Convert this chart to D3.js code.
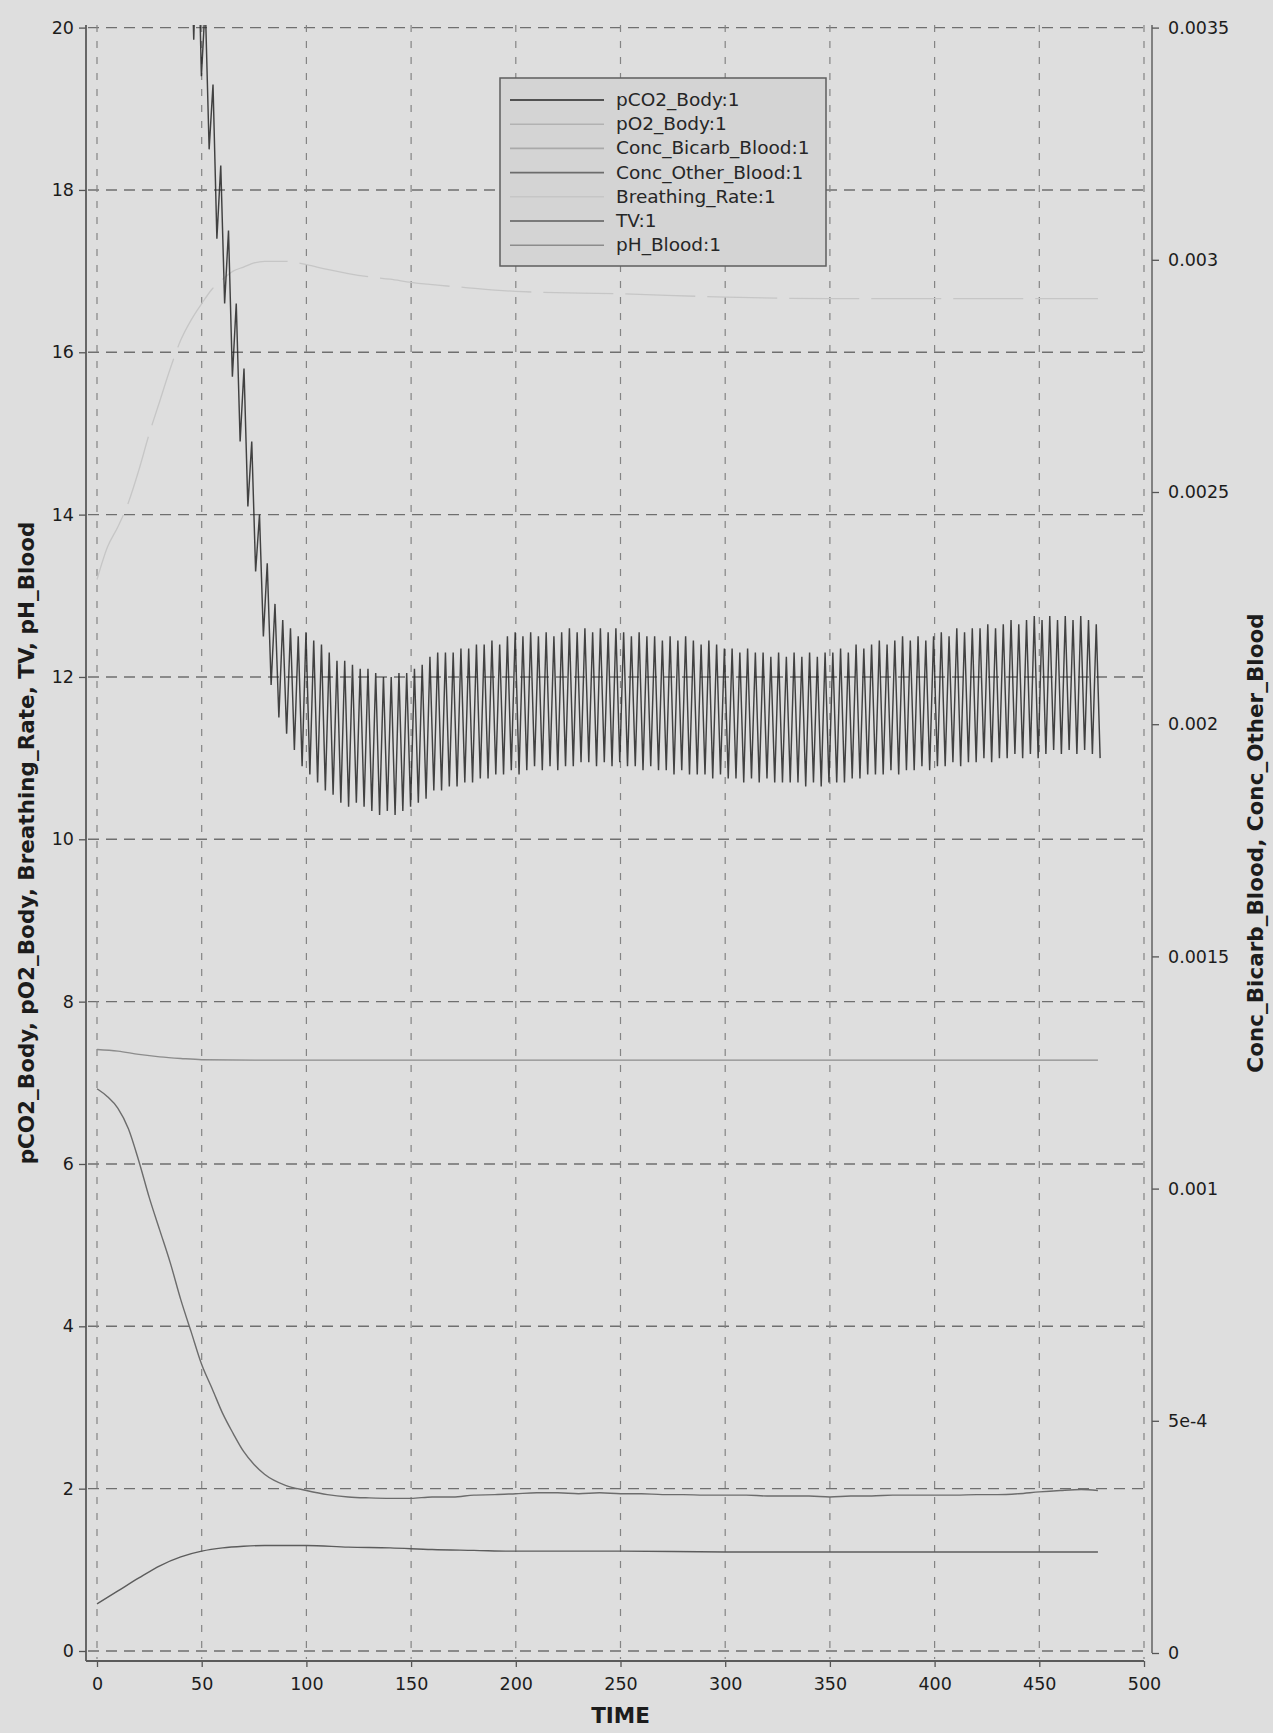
<!DOCTYPE html>
<html>
<head>
<meta charset="utf-8">
<script src="https://cdn.jsdelivr.net/npm/d3@7"></script>
<style>
  body { margin: 0; background: #dedede; }
  svg { display: block; }
  .tick text { font-family: "DejaVu Sans", sans-serif; font-size: 17.5px; fill: #1c1c1c; }
  .axis-title { font-family: "DejaVu Sans", sans-serif; font-weight: bold; font-size: 21.5px; fill: #1c1c1c; }
  .legend-text { font-family: "DejaVu Sans", sans-serif; font-size: 18.5px; fill: #262626; }
</style>
</head>
<body>
<svg id="chart" width="1273" height="1733"></svg>
<script>
/* global d3 */

// ---- data ----
const timeTicks = [0, 50, 100, 150, 200, 250, 300, 350, 400, 450, 500]
const leftTicks = [0, 2, 4, 6, 8, 10, 12, 14, 16, 18, 20]
const rightTicks = [0, 0.0005, 0.001, 0.0015, 0.002, 0.0025, 0.003, 0.0035]
const rightTickLabels = ['0', '5e-4', '0.001', '0.0015', '0.002', '0.0025', '0.003', '0.0035']

const legendNames = ['pCO2_Body:1', 'pO2_Body:1', 'Conc_Bicarb_Blood:1', 'Conc_Other_Blood:1',
  'Breathing_Rate:1', 'TV:1', 'pH_Blood:1']

// pCO2_Body oscillates once per breath: peak / trough of every breath
const breathStart = 48
const breathPeriod = 3.7
const oscLead = [[44, 22], [46.2, 19.85]]
const oscHi = [21.5, 20.3, 19.3, 18.3, 17.5, 16.6, 15.8, 14.9, 14.0, 13.4, 12.9, 12.7, 12.6, 12.5, 12.55,
  12.45, 12.4, 12.3, 12.2, 12.2, 12.15, 12.1, 12.1, 12.05, 12.0, 12.0, 12.05, 12.05, 12.1, 12.15,
  12.25, 12.3, 12.3, 12.3, 12.35, 12.35, 12.4, 12.4, 12.45, 12.4, 12.5, 12.55, 12.5, 12.55, 12.5,
  12.55, 12.5, 12.55, 12.6, 12.55, 12.6, 12.55, 12.6, 12.55, 12.6, 12.55, 12.5, 12.55, 12.5, 12.5,
  12.45, 12.5, 12.45, 12.5, 12.45, 12.4, 12.45, 12.4, 12.35, 12.35, 12.3, 12.35, 12.3, 12.3, 12.25,
  12.3, 12.25, 12.3, 12.25, 12.3, 12.25, 12.3, 12.3, 12.35, 12.3, 12.4, 12.35, 12.4, 12.45, 12.4,
  12.45, 12.5, 12.45, 12.5, 12.45, 12.5, 12.55, 12.5, 12.6, 12.55, 12.6, 12.6, 12.65, 12.6, 12.65,
  12.7, 12.65, 12.7, 12.75, 12.7, 12.75, 12.7, 12.75, 12.7, 12.75, 12.7, 12.65]
const oscLo = [19.4, 18.5, 17.4, 16.6, 15.7, 14.9, 14.1, 13.3, 12.5, 11.9, 11.5, 11.3, 11.1, 10.9, 10.8,
  10.7, 10.6, 10.55, 10.45, 10.4, 10.45, 10.4, 10.35, 10.3, 10.35, 10.3, 10.35, 10.4, 10.45, 10.5,
  10.6, 10.6, 10.65, 10.65, 10.7, 10.7, 10.75, 10.75, 10.8, 10.8, 10.85, 10.8, 10.85, 10.9, 10.85,
  10.9, 10.85, 10.9, 10.9, 10.95, 10.95, 10.9, 10.95, 10.9, 10.95, 10.9, 10.9, 10.85, 10.9, 10.85,
  10.85, 10.8, 10.85, 10.8, 10.8, 10.8, 10.75, 10.8, 10.75, 10.75, 10.7, 10.75, 10.7, 10.75, 10.7,
  10.7, 10.7, 10.7, 10.65, 10.7, 10.65, 10.7, 10.7, 10.7, 10.75, 10.75, 10.8, 10.8, 10.8, 10.85,
  10.8, 10.85, 10.85, 10.9, 10.85, 10.9, 10.9, 10.95, 10.9, 10.95, 10.95, 11.0, 10.95, 11.0, 11.0,
  11.05, 11.0, 11.05, 11.0, 11.05, 11.1, 11.05, 11.1, 11.05, 11.1, 11.05, 11.0]

const breathingRate = [[0, 13.2], [5, 13.6], [10, 13.85], [15, 14.15], [20, 14.55], [25, 15.0], [30, 15.4],
  [35, 15.8], [40, 16.15], [45, 16.4], [50, 16.6], [55, 16.78], [60, 16.9], [65, 17.0], [70, 17.05],
  [75, 17.1], [80, 17.12], [90, 17.12], [100, 17.08], [110, 17.02], [120, 16.97], [130, 16.93],
  [140, 16.9], [150, 16.86], [175, 16.8], [200, 16.75], [250, 16.72], [300, 16.68], [350, 16.66],
  [400, 16.66], [450, 16.66], [478, 16.66]]

const tidalVolume = [[0, 0.58], [10, 0.74], [20, 0.9], [30, 1.05], [40, 1.16], [50, 1.23], [60, 1.27],
  [70, 1.29], [80, 1.3], [100, 1.3], [120, 1.28], [140, 1.27], [160, 1.25], [180, 1.24], [200, 1.23],
  [250, 1.23], [300, 1.22], [350, 1.22], [400, 1.22], [450, 1.22], [478, 1.22]]

const phBlood = [[0, 7.41], [10, 7.39], [20, 7.35], [30, 7.32], [40, 7.3], [50, 7.285], [75, 7.28],
  [150, 7.28], [300, 7.28], [478, 7.28]]

// right axis
const concOther = [[0, 0.001215], [5, 0.001198], [10, 0.001173], [15, 0.001129], [20, 0.001059],
  [25, 0.00098], [30, 0.00091], [35, 0.00084], [40, 0.000761], [45, 0.000691], [50, 0.000621],
  [55, 0.000569], [60, 0.000516], [65, 0.000473], [70, 0.000434], [75, 0.000406], [80, 0.000385],
  [90, 0.000361], [100, 0.00035], [110, 0.000341], [120, 0.000336], [130, 0.000334], [140, 0.000333],
  [150, 0.000333], [160, 0.000336], [170, 0.000336], [180, 0.00034], [190, 0.000341], [200, 0.000343],
  [210, 0.000345], [220, 0.000345], [230, 0.000343], [240, 0.000345], [250, 0.000343], [260, 0.000343],
  [270, 0.000341], [280, 0.000341], [290, 0.00034], [300, 0.00034], [310, 0.00034], [320, 0.000338],
  [330, 0.000338], [340, 0.000338], [350, 0.000336], [360, 0.000338], [370, 0.000338], [380, 0.00034],
  [390, 0.00034], [400, 0.00034], [410, 0.00034], [420, 0.000341], [430, 0.000341], [440, 0.000343],
  [450, 0.000347], [460, 0.00035], [470, 0.000352], [478, 0.00035]]

const seriesColor = {
  'pCO2_Body:1': '#262626',
  'pO2_Body:1': '#b2b2b2',
  'Conc_Bicarb_Blood:1': '#a9a9a9',
  'Conc_Other_Blood:1': '#6c6c6c',
  'Breathing_Rate:1': '#c6c6c6',
  'TV:1': '#5c5c5c',
  'pH_Blood:1': '#8c8c8c'
}

// ---- layout ----
const frame = { left: 86, right: 1152, top: 25, bottom: 1661 }

const x = d3.scaleLinear().domain([0, 500]).range([97, 1144])
const yLeft = d3.scaleLinear().domain([0, 20]).range([1651, 27.6])
const yRight = d3.scaleLinear().domain([0, 0.0035]).range([1653, 27.6])

const $svg = d3.select('#chart')

$svg.append('rect')
  .attr('width', 1273).attr('height', 1733)
  .attr('fill', '#dedede')

$svg.append('defs').append('clipPath')
  .attr('id', 'plot-clip')
  .append('rect')
  .attr('x', frame.left).attr('y', frame.top)
  .attr('width', frame.right - frame.left).attr('height', frame.bottom - frame.top)

// grid
const $grid = $svg.append('g').attr('class', 'grid')
$grid.selectAll('.hgrid')
  .data(leftTicks)
  .enter()
  .append('line')
  .attr('class', 'hgrid')
  .attr('x1', frame.left + 2).attr('x2', frame.right - 2)
  .attr('y1', d => yLeft(d)).attr('y2', d => yLeft(d))
  .attr('stroke', '#6f6f6f')
  .attr('stroke-width', 1.4)
  .attr('stroke-dasharray', '11,7')

$grid.selectAll('.vgrid')
  .data(timeTicks)
  .enter()
  .append('line')
  .attr('class', 'vgrid')
  .attr('x1', d => x(d)).attr('x2', d => x(d))
  .attr('y1', frame.top).attr('y2', frame.bottom - 2)
  .attr('stroke', '#848484')
  .attr('stroke-width', 1.2)
  .attr('stroke-dasharray', '7,9')

// series
const $plot = $svg.append('g').attr('clip-path', 'url(#plot-clip)')

const lineLeft = d3.line().x(d => x(d[0])).y(d => yLeft(d[1]))
const smoothLeft = d3.line().curve(d3.curveMonotoneX).x(d => x(d[0])).y(d => yLeft(d[1]))
const smoothRight = d3.line().curve(d3.curveMonotoneX).x(d => x(d[0])).y(d => yRight(d[1]))

const pco2 = oscLead.slice()
oscHi.forEach((h, i) => {
  const t = breathStart + i * breathPeriod
  pco2.push([t, h])
  if (oscLo[i] != null) pco2.push([t + breathPeriod / 2, oscLo[i]])
})

$plot.append('path')
  .datum(breathingRate)
  .attr('d', smoothLeft)
  .attr('fill', 'none')
  .attr('stroke', seriesColor['Breathing_Rate:1'])
  .attr('stroke-width', 1.3)
  .attr('stroke-dasharray', '70,12')

$plot.append('path')
  .datum(phBlood)
  .attr('d', smoothLeft)
  .attr('fill', 'none')
  .attr('stroke', seriesColor['pH_Blood:1'])
  .attr('stroke-width', 1.4)

$plot.append('path')
  .datum(tidalVolume)
  .attr('d', smoothLeft)
  .attr('fill', 'none')
  .attr('stroke', seriesColor['TV:1'])
  .attr('stroke-width', 1.4)

$plot.append('path')
  .datum(concOther)
  .attr('d', smoothRight)
  .attr('fill', 'none')
  .attr('stroke', seriesColor['Conc_Other_Blood:1'])
  .attr('stroke-width', 1.4)

$plot.append('path')
  .datum(pco2)
  .attr('d', lineLeft)
  .attr('fill', 'none')
  .attr('stroke', seriesColor['pCO2_Body:1'])
  .attr('stroke-width', 1.45)
  .attr('stroke-opacity', 0.85)

// axes
const $axes = $svg.append('g').attr('class', 'axes')

const $left = $axes.append('g')
  .attr('transform', `translate(${frame.left},0)`)
  .call(d3.axisLeft(yLeft).tickValues(leftTicks).tickSize(7).tickPadding(5))
const $bottom = $axes.append('g')
  .attr('transform', `translate(0,${frame.bottom})`)
  .call(d3.axisBottom(x).tickValues(timeTicks).tickSize(6).tickPadding(11))
const $right = $axes.append('g')
  .attr('transform', `translate(${frame.right},0)`)
  .call(d3.axisRight(yRight).tickValues(rightTicks)
    .tickFormat((d, i) => rightTickLabels[i]).tickSize(7).tickPadding(9))

;[$left, $bottom, $right].forEach($a => {
  $a.select('.domain').remove()
  $a.selectAll('.tick line').attr('stroke', '#555').attr('stroke-width', 1.3)
})

$axes.append('line')
  .attr('x1', frame.left).attr('x2', frame.left)
  .attr('y1', frame.top).attr('y2', frame.bottom)
  .attr('stroke', '#5a5a5a').attr('stroke-width', 1.8)
$axes.append('line')
  .attr('x1', frame.left).attr('x2', x(500))
  .attr('y1', frame.bottom).attr('y2', frame.bottom)
  .attr('stroke', '#5a5a5a').attr('stroke-width', 1.8)
$axes.append('line')
  .attr('x1', frame.right).attr('x2', frame.right)
  .attr('y1', frame.top).attr('y2', frame.bottom - 8)
  .attr('stroke', '#5a5a5a').attr('stroke-width', 1.4)

// titles
$svg.append('text')
  .attr('class', 'axis-title')
  .attr('x', x(250)).attr('y', 1723)
  .attr('text-anchor', 'middle')
  .text('TIME')

$svg.append('text')
  .attr('class', 'axis-title')
  .attr('transform', `translate(34,${(frame.top + frame.bottom) / 2}) rotate(-90)`)
  .attr('text-anchor', 'middle')
  .text('pCO2_Body, pO2_Body, Breathing_Rate, TV, pH_Blood')

$svg.append('text')
  .attr('class', 'axis-title')
  .attr('transform', `translate(1263,${(frame.top + frame.bottom) / 2}) rotate(-90)`)
  .attr('text-anchor', 'middle')
  .text('Conc_Bicarb_Blood, Conc_Other_Blood')

// legend
const legend = { x: 500, y: 78, w: 326, h: 188, row: 24.2 }
const $legend = $svg.append('g').attr('class', 'legend')
$legend.append('rect')
  .attr('x', legend.x).attr('y', legend.y)
  .attr('width', legend.w).attr('height', legend.h)
  .attr('fill', '#d4d4d4')
  .attr('stroke', '#5e5e5e')
  .attr('stroke-width', 1.5)

const $item = $legend.selectAll('.item')
  .data(legendNames)
  .enter()
  .append('g')
  .attr('class', 'item')
  .attr('transform', (d, i) => `translate(0,${legend.y + 22 + i * legend.row})`)
$item.append('line')
  .attr('x1', legend.x + 10).attr('x2', legend.x + 104)
  .attr('stroke', d => seriesColor[d])
  .attr('stroke-width', 1.6)
$item.append('text')
  .attr('class', 'legend-text')
  .attr('x', legend.x + 116)
  .attr('y', 6)
  .text(d => d)
</script>
</body>
</html>
